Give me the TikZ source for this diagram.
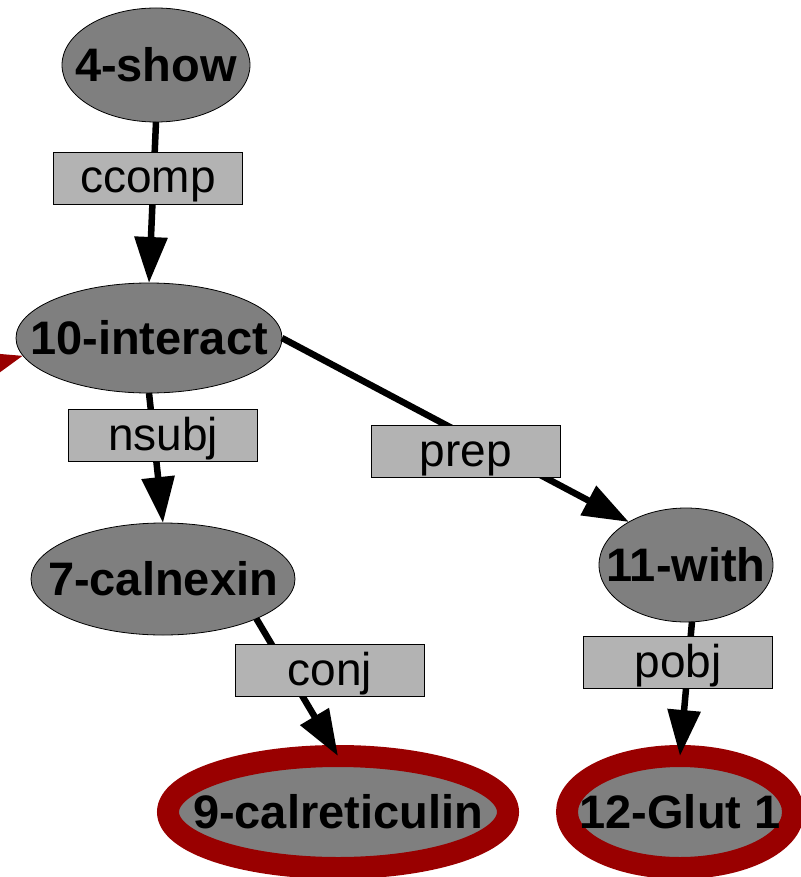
\documentclass[tikz,border=0pt]{standalone}
\usepackage{fontspec}
\setmainfont{Liberation Sans}
\usetikzlibrary{shapes.geometric,arrows.meta}
\definecolor{nodegray}{HTML}{7F7F7F}
\definecolor{labgray}{HTML}{B3B3B3}
\definecolor{hired}{HTML}{990000}
\begin{document}
\begin{tikzpicture}[x=1pt,y=-1pt,
  word/.style={ellipse,draw=black,line width=0.8pt,fill=nodegray,inner sep=0pt,outer sep=0pt,
    font=\fontsize{47}{47}\selectfont\bfseries},
  focus/.style={word,draw=hired,line width=22pt},
  rel/.style={rectangle,draw=black,line width=0.8pt,fill=labgray,minimum width=189pt,
    minimum height=52pt,inner sep=0pt,text height=34pt,text depth=4pt,
    font=\fontsize{46}{46}\selectfont},
  dep/.style={line width=6.5pt,-{Triangle[length=46pt,width=32pt]}},
]
\useasboundingbox (0,0) rectangle (800,877);

% tokens
\node[word,minimum width=188pt,minimum height=114pt] (show)   at (156,65)  {\makebox[0pt]{4-show}};
\node[word,minimum width=266pt,minimum height=110pt] (ia)     at (149,338) {\makebox[0pt]{10-interact}};
\node[word,minimum width=264pt,minimum height=112pt] (calnex) at (163,579) {\makebox[0pt]{7-calnexin}};
\node[word,minimum width=174pt,minimum height=114pt] (with)   at (686,565) {\makebox[0pt]{11-with}};
\node[focus,minimum width=340pt,minimum height=112pt] (calret) at (338,812) {\makebox[0pt]{9-calreticulin}};
\node[focus,minimum width=226pt,minimum height=112pt] (glut)   at (680,812) {\makebox[0pt]{12-Glut 1}};

\coordinate (offleft) at (-171,410);

% dependencies
\draw[dep] (show.south) -- (ia.north);
\draw[dep] (ia.south) -- (calnex.north);
\draw[dep] (ia.east) -- (with.143);
\draw[dep] (calnex.-23) -- (calret.north);
\draw[dep] (with.-84) -- (glut.north);
\draw[dep,hired] (offleft) -- (ia.188);

% relation labels
\node[rel] (rccomp) at (148,178) {ccomp};
\node[rel] (rnsubj) at (163,435) {nsubj};
\node[rel] (rprep)  at (466,451) {prep};
\node[rel] (rconj)  at (330,670) {conj};
\node[rel] (rpobj)  at (678,662) {pobj};
\end{tikzpicture}
\end{document}
